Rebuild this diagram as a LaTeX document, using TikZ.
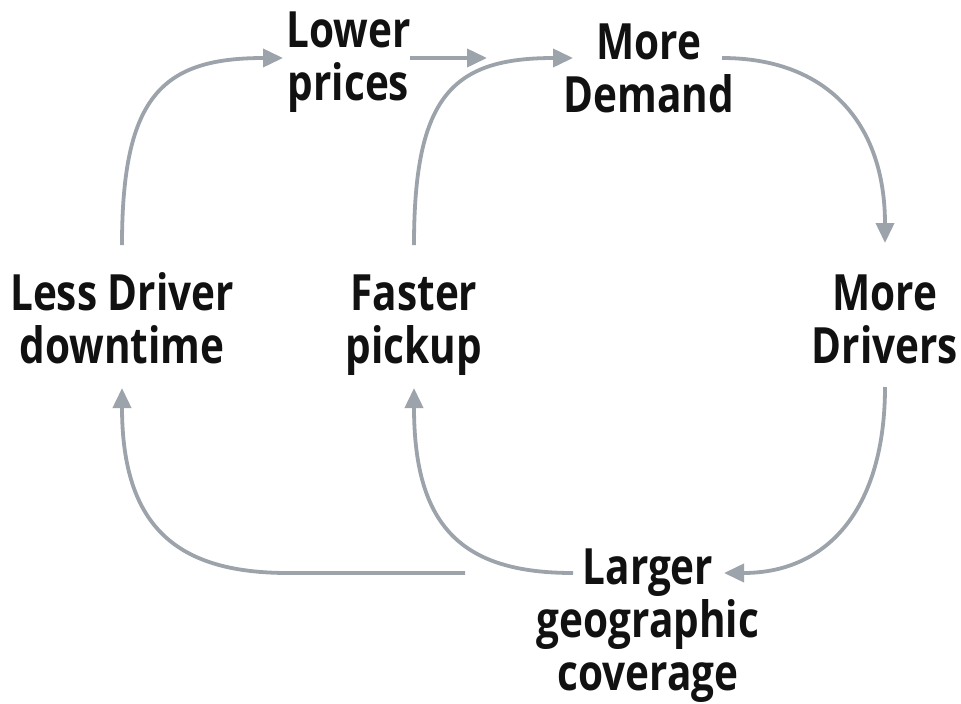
\documentclass[tikz,border=0pt]{standalone}
\usepackage{fontspec}
\setmainfont{Open Sans}[FakeStretch=0.81]
\usetikzlibrary{arrows.meta,calc}
\definecolor{linegray}{HTML}{9CA3AB}
\definecolor{textblack}{HTML}{111111}
\tikzset{
  lbl/.style={font=\fontsize{50}{53}\selectfont\bfseries, text=textblack, align=center, inner sep=0pt, anchor=base},
  arr/.style={draw=linegray, line width=3.8pt, -{Triangle[length=20pt,width=18pt]}},
}
\begin{document}
\begin{tikzpicture}[x=1pt,y=-1pt]
\useasboundingbox (0,0) rectangle (961,704);
% anchor=base refers to the last line's baseline
\node[lbl] (lp)  at (348.5,100) {Lower\\prices};
\node[lbl] (md)  at (649,112)   {More\\Demand};
\node[lbl] (ldd) at (122,363)  {Less Driver\\downtime};
\node[lbl] (fp)  at (414,363)  {Faster\\pickup};
\node[lbl] (mdr) at (885,363)  {More\\Drivers};
\node[lbl] (lgc) at (648,690)  {Larger\\geographic\\coverage};
% connector end points
\path (lp.center |- 0,58) ++(-65.5,0) coordinate (lpin);
\path (lp.center |- 0,58) ++(61.5,0) coordinate (lpout);
\path (lp.center |- 0,58) ++(138.5,0) coordinate (lpend);
\path (md.center |- 0,58) ++(-76,0) coordinate (mdin);
\path (md.center |- 0,58) ++(73,0) coordinate (mdout);
\path (lgc.center |- 0,573) ++(-75,0) coordinate (lgcout);
\path (lgc.center |- 0,573) ++(-183,0) coordinate (lgcout2);
\path (lgc.center |- 0,573) ++(76,0) coordinate (lgcin);
% connectors
\draw[arr] (ldd.north |- 0,245) .. controls +(0,-150) and +(-120,0) .. (lpin);
\draw[arr] (lpout) -- (lpend);
\draw[arr] (fp.north |- 0,245) .. controls +(0,-150) and +(-120,0) .. (mdin);
\draw[arr] (mdout) .. controls +(105,0) and +(0,-120) .. (mdr.north |- 0,243);
\draw[arr] (mdr.south |- 0,387) .. controls +(0,120) and +(105,0) .. (lgcin);
\draw[arr] (lgcout) .. controls +(-110,0) and +(0,140) .. (fp.south |- 0,388);
\draw[arr] (lgcout2) -- ++(-177,0) .. controls +(-110,0) and +(0,140) .. (ldd.south |- 0,388);
\end{tikzpicture}
\end{document}
